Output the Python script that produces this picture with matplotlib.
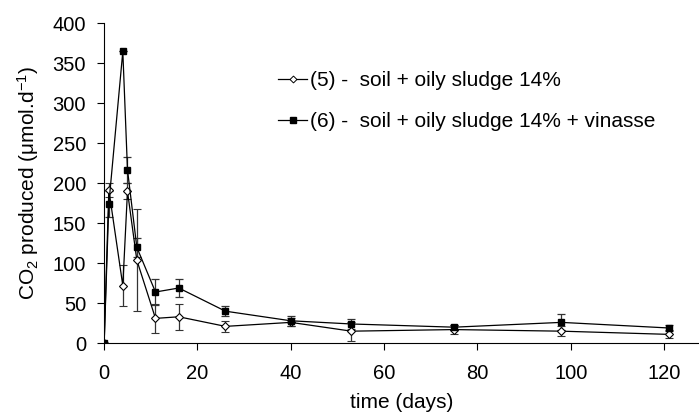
import numpy as np
import matplotlib.pyplot as plt
from matplotlib.lines import Line2D

plt.rcParams['font.family'] = ['Liberation Sans', 'DejaVu Sans']
plt.rcParams['mathtext.fontset'] = 'custom'
plt.rcParams['mathtext.rm'] = 'Liberation Sans'
plt.rcParams['mathtext.it'] = 'Liberation Sans:italic'

# time (days)
days = [0, 1, 4, 5, 7, 11, 16, 26, 40, 53, 75, 98, 121]

# (5) soil + oily sludge 14%
co2_s5 = [0, 192, 72, 190, 104, 31, 33, 21, 26, 15, 17, 15, 11]
err_s5 = [0, 9, 26, 10, 64, 18, 16, 7, 5, 12, 6, 6, 5]

# (6) soil + oily sludge 14% + vinasse
co2_s6 = [0, 174, 365, 217, 120, 64, 69, 40, 28, 24, 20, 26, 19]
err_s6 = [0, 16, 0, 16, 12, 16, 11, 6, 6, 6, 3, 10, 4]

labels = ['(5) -  soil + oily sludge 14%', '(6) -  soil + oily sludge 14% + vinasse']

fs = 15
tfs = 14.5

fig = plt.figure(figsize=(6.99, 4.19), dpi=100)
ax = fig.add_axes([0.149, 0.181, 0.851, 0.763])

ax.errorbar(days, co2_s5, yerr=err_s5, color='black', ecolor='#333333',
            elinewidth=0.9, capsize=3, capthick=0.9, lw=0.9,
            marker='D', markersize=4.5, markerfacecolor='white',
            markeredgecolor='black', markeredgewidth=0.8)
ax.errorbar(days, co2_s6, yerr=err_s6, color='black', ecolor='#333333',
            elinewidth=0.9, capsize=3, capthick=0.9, lw=0.9,
            marker='s', markersize=5, markerfacecolor='black',
            markeredgecolor='black')

ax.set_xlim(0, 127.5)
ax.set_ylim(0, 400)
ax.set_xticks(range(0, 121, 20))
ax.set_yticks(range(0, 401, 50))
ax.spines['top'].set_visible(False)
ax.spines['right'].set_visible(False)
ax.tick_params(axis='y', labelsize=tfs, direction='out', length=5, width=0.8, pad=8)
ax.tick_params(axis='x', labelsize=tfs, direction='out', length=5, width=0.8, pad=10)

ax.set_xlabel('time (days)', fontsize=fs, labelpad=7)
ax.set_ylabel('CO$_2$ produced (μmol.d$^{-1}$)', fontsize=fs, labelpad=8)

h5 = Line2D([], [], color='black', lw=0.9, marker='D', markersize=3.5,
            markerfacecolor='white', markeredgecolor='black', markeredgewidth=0.7)
h6 = Line2D([], [], color='black', lw=0.9, marker='s', markersize=4,
            markerfacecolor='black', markeredgecolor='black')
ax.legend([h5, h6], labels,
          loc='upper left', bbox_to_anchor=(278 / 699, 1 - 71 / 419),
          bbox_transform=fig.transFigure, frameon=False, borderpad=0,
          borderaxespad=0, fontsize=fs, handlelength=1.4, handletextpad=0.15,
          labelspacing=1.05)

plt.savefig('out.png', dpi=100)
